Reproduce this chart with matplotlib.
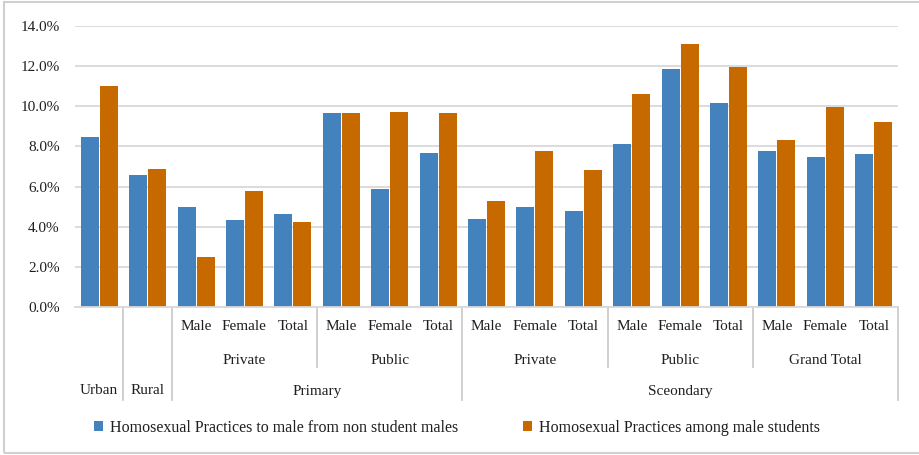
import matplotlib
matplotlib.use("Agg")
import matplotlib.pyplot as plt
from matplotlib.patches import Rectangle
from matplotlib.lines import Line2D
import numpy as np

plt.rcParams['font.family'] = ['Liberation Serif', 'DejaVu Serif']

# ---- data ----
level1 = ["", "", "Male", "Female", "Total", "Male", "Female", "Total",
          "Male", "Female", "Total", "Male", "Female", "Total",
          "Male", "Female", "Total"]
level2 = [("Private", 2, 4), ("Public", 5, 7), ("Private", 8, 10),
          ("Public", 11, 13), ("Grand Total", 14, 16)]
level3 = [("Urban", 0, 0), ("Rural", 1, 1), ("Primary", 2, 7), ("Sceondary", 8, 16)]
non_student = [8.47, 6.58, 4.98, 4.33, 4.63, 9.67, 5.88, 7.67,
               4.38, 4.98, 4.78, 8.12, 11.86, 10.16, 7.77, 7.47, 7.62]
among_students = [11.01, 6.88, 2.49, 5.78, 4.24, 9.67, 9.72, 9.67,
                  5.28, 7.77, 6.83, 10.61, 13.10, 11.96, 8.32, 9.97, 9.22]
series_names = ["Homosexual Practices to male from non student males",
                "Homosexual Practices among male students"]
yticks = [0, 2, 4, 6, 8, 10, 12, 14]

# ---- styling ----
W, H = 919, 455
blue = "#4482BE"
orange = "#C66A00"
grid_c = "#D9D9D9"
sep_c = "#CCCCCC"
txt_c = "#1F1F1F"
fs = 11
fs_leg = 11.5

fig = plt.figure(figsize=(W / 100, H / 100), dpi=100)
left_px, right_px, top_px, bot_px = 75, 898, 26, 307
ax = fig.add_axes([left_px / W, 1 - bot_px / H,
                   (right_px - left_px) / W, (bot_px - top_px) / H])

x = np.arange(len(non_student))
bw = 0.372
off = 0.196
b1 = ax.bar(x - off, non_student, width=bw, color=blue, zorder=3)
b2 = ax.bar(x + off, among_students, width=bw, color=orange, zorder=3)

ax.set_xlim(-0.5, len(x) - 0.5)
ax.set_ylim(0, 14)
ax.set_yticks(yticks)
ax.set_yticklabels([f"{v:.1f}%" for v in yticks], fontsize=fs, color=txt_c)
ax.tick_params(axis='y', length=0, pad=11)
ax.set_xticks([])
ax.yaxis.grid(True, color=grid_c, lw=1.3, zorder=0)
for s in ["top", "right", "left"]:
    ax.spines[s].set_visible(False)
ax.spines["bottom"].set_color(grid_c)
ax.spines["bottom"].set_linewidth(1.3)
ax.spines["bottom"].set_zorder(4)

trans = ax.get_xaxis_transform()

def yfrac(py):
    # figure pixel y (from top) -> axes fraction
    return (bot_px - py) / (bot_px - top_px)

y1 = yfrac(327)
y2 = yfrac(360)
y3 = yfrac(391)
for i, lab in enumerate(level1):
    if lab:
        ax.text(i, y1, lab, transform=trans, ha='center', va='center',
                fontsize=fs, color=txt_c, clip_on=False)
for lab, a, b in level2:
    ax.text((a + b) / 2, y2, lab, transform=trans, ha='center', va='center',
            fontsize=fs, color=txt_c, clip_on=False)
for lab, a, b in level3:
    ax.text((a + b) / 2, y3, lab, transform=trans, ha='center', va='center',
            fontsize=fs, color=txt_c, clip_on=False)

# separators
short_end = yfrac(367)
long_end = yfrac(400)
short_bounds = [4.5, 10.5, 13.5]
long_bounds = [0.5, 1.5, 7.5, 16.5]
for xb in short_bounds:
    ax.add_line(Line2D([xb, xb], [0, short_end], transform=trans, color=sep_c,
                       lw=1.3, clip_on=False))
for xb in long_bounds:
    ax.add_line(Line2D([xb, xb], [0, long_end], transform=trans, color=sep_c,
                       lw=1.3, clip_on=False))

# legend
leg = fig.legend([b1, b2], series_names, loc='center',
                 bbox_to_anchor=(457 / W, 1 - 428 / H), ncol=2, frameon=False,
                 fontsize=fs_leg, handlelength=0.57, handleheight=0.57,
                 handletextpad=0.45, columnspacing=4.0, labelcolor=txt_c)

# outer border
fig.patches.append(Rectangle((4 / W, 2 / H), (W + 5) / W, (H - 4) / H,
                             transform=fig.transFigure, fill=False,
                             edgecolor="#D0D0D0", lw=1.5))

fig.savefig("out.png", dpi=100)
